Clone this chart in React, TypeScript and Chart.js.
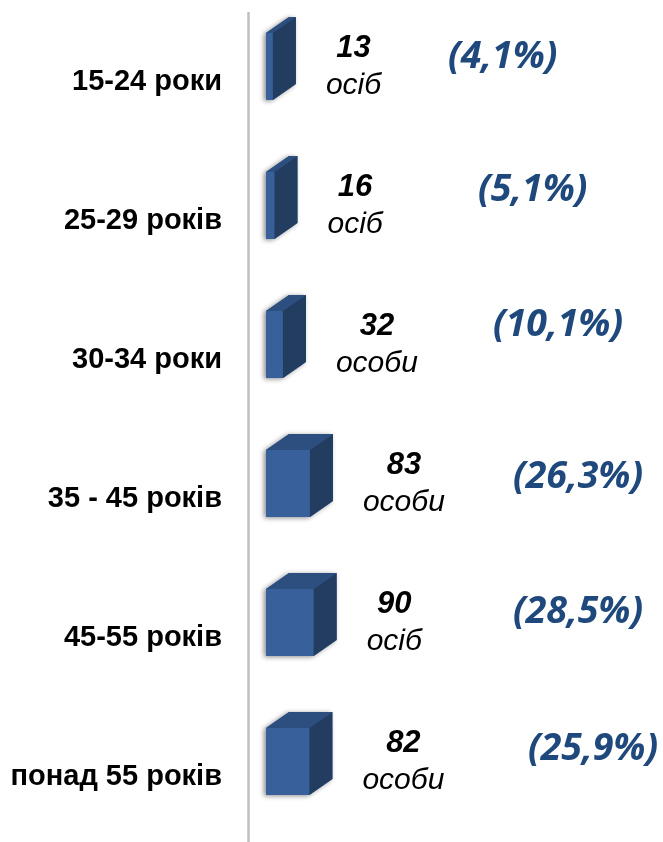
import { useEffect, useRef } from 'react';
import { Chart, registerables } from 'chart.js';

Chart.register(...registerables);

// ---- data ----
const CATEGORIES = ['15-24 роки', '25-29 років', '30-34 роки', '35 - 45 років', '45-55 років', 'понад 55 років'];
const COUNTS = [13, 16, 32, 83, 90, 82];
const UNITS = ['осіб', 'осіб', 'особи', 'особи', 'осіб', 'особи'];
const SHARES = ['(4,1%)', '(5,1%)', '(10,1%)', '(26,3%)', '(28,5%)', '(25,9%)'];

// ---- layout (not data) ----
const PCT_X = [448, 478, 493, 513, 513, 528];
const PCT_DY = [-9, -15, -19, -6, -10, -12];
const DEPTH_X = 23;
const DEPTH_Y = -16;

const FRONT = '#38609a';
const TOP = '#2c4f80';
const SIDE = '#233d60';

const box3d = {
  id: 'box3d',
  beforeDatasetsDraw(chart: any) {
    const ctx = chart.ctx;
    const x = chart.chartArea.left + 0.5;
    ctx.save();
    ctx.strokeStyle = '#bfbfbf';
    ctx.lineWidth = 2.5;
    ctx.beginPath();
    ctx.moveTo(x, 12);
    ctx.lineTo(x, chart.height);
    ctx.stroke();
    ctx.restore();
  },
  afterDatasetsDraw(chart: any) {
    const ctx = chart.ctx;
    const meta = chart.getDatasetMeta(0);
    meta.data.forEach((el: any, i: number) => {
      const { x, y, base, height } = el.getProps(['x', 'y', 'base', 'height'], true);
      const x0 = base;
      const x1 = x;
      const y0 = y - height / 2;
      const y1 = y + height / 2;
      const dx = DEPTH_X;
      const dy = DEPTH_Y;
      ctx.save();
      // shadow
      ctx.shadowColor = 'rgba(0,0,0,0.45)';
      ctx.shadowBlur = 5;
      ctx.shadowOffsetX = -2;
      ctx.shadowOffsetY = 1;
      ctx.fillStyle = FRONT;
      ctx.beginPath();
      ctx.moveTo(x0, y0);
      ctx.lineTo(x0 + dx, y0 + dy);
      ctx.lineTo(x1 + dx, y0 + dy);
      ctx.lineTo(x1 + dx, y1 + dy);
      ctx.lineTo(x1, y1);
      ctx.lineTo(x0, y1);
      ctx.closePath();
      ctx.fill();
      ctx.restore();

      ctx.save();
      // front
      ctx.fillStyle = FRONT;
      ctx.fillRect(x0, y0, x1 - x0, y1 - y0);
      // top
      ctx.fillStyle = TOP;
      ctx.beginPath();
      ctx.moveTo(x0, y0);
      ctx.lineTo(x1, y0);
      ctx.lineTo(x1 + dx, y0 + dy);
      ctx.lineTo(x0 + dx, y0 + dy);
      ctx.closePath();
      ctx.fill();
      // side
      ctx.fillStyle = SIDE;
      ctx.beginPath();
      ctx.moveTo(x1, y0);
      ctx.lineTo(x1 + dx, y0 + dy);
      ctx.lineTo(x1 + dx, y1 + dy);
      ctx.lineTo(x1, y1);
      ctx.closePath();
      ctx.fill();

      // value labels
      const numFont = 'italic bold 31px "Liberation Sans", Arial, sans-serif';
      const unitFont = 'italic 30px "Liberation Sans", Arial, sans-serif';
      const numText = String(COUNTS[i]);
      ctx.font = numFont;
      const wNum = ctx.measureText(numText).width;
      ctx.font = unitFont;
      const wUnit = ctx.measureText(UNITS[i]).width;
      const left = x1 + dx + 30;
      const cx = left + Math.max(wNum, wUnit) / 2;
      ctx.fillStyle = '#000';
      ctx.textAlign = 'center';
      ctx.textBaseline = 'alphabetic';
      ctx.font = numFont;
      ctx.fillText(numText, cx, y - 10);
      ctx.font = unitFont;
      ctx.fillText(UNITS[i], cx, y + 27);

      // share labels
      ctx.font = 'italic bold 37.5px "Open Sans", sans-serif';
      ctx.fillStyle = '#1f497d';
      ctx.textAlign = 'left';
      ctx.textBaseline = 'middle';
      ctx.fillText(SHARES[i], PCT_X[i], y + PCT_DY[i]);
      ctx.restore();
    });
  },
};

export default function App() {
  const ref = useRef<HTMLCanvasElement | null>(null);
  useEffect(() => {
    document.body.style.margin = '0';
    const canvas = ref.current;
    if (!canvas) return;
    const chart = new Chart(canvas, {
      type: 'bar',
      data: {
        labels: CATEGORIES,
        datasets: [
          {
            data: COUNTS,
            backgroundColor: 'rgba(0,0,0,0)',
            borderWidth: 0,
            barThickness: 67,
          },
        ],
      },
      options: {
        indexAxis: 'y',
        animation: false,
        responsive: false,
        maintainAspectRatio: false,
        layout: { padding: { top: 66.5, bottom: 80.5, left: 0, right: 0 } },
        plugins: { legend: { display: false }, tooltip: { enabled: false } },
        scales: {
          x: { type: 'linear', display: false, min: -34, max: 750 },
          y: {
            type: 'category',
            offset: false,
            grid: { display: false, drawTicks: false },
            border: { display: false },
            ticks: {
              color: '#000',
              autoSkip: false,
              padding: 26,
              labelOffset: 15.5,
              font: { family: '"Liberation Sans", Arial, sans-serif', size: 29, weight: 'bold' },
            },
            afterFit(scale: any) {
              scale.width = 248;
            },
          },
        },
      },
      plugins: [box3d],
    } as any);
    return () => chart.destroy();
  }, []);
  return (
    <div style={{ width: 663, height: 842 }}>
      <canvas ref={ref} width={663} height={842} style={{ display: 'block' }} />
    </div>
  );
}
